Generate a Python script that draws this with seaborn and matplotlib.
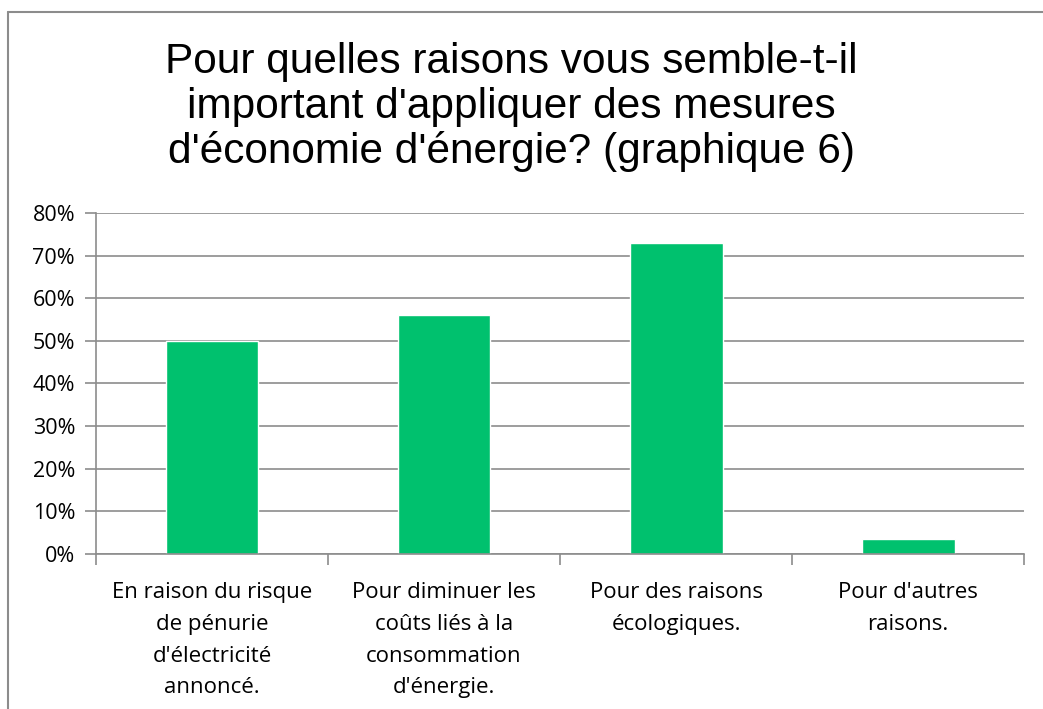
import matplotlib
matplotlib.use("Agg")
import matplotlib.pyplot as plt
from matplotlib.lines import Line2D
from matplotlib.ticker import PercentFormatter
import pandas as pd
import seaborn as sns

categories = [
    "En raison du risque\nde pénurie\nd'électricité\nannoncé.",
    "Pour diminuer les\ncoûts liés à la\nconsommation\nd'énergie.",
    "Pour des raisons\nécologiques.",
    "Pour d'autres\nraisons.",
]
values = [50.0, 56.0, 73.0, 3.5]
yticks = [0, 10, 20, 30, 40, 50, 60, 70, 80]
title = "Pour quelles raisons vous semble-t-il\nimportant d'appliquer des mesures\nd'économie d'énergie? (graphique 6)"

df = pd.DataFrame({"raison": categories, "pct": values})

sns.set_style("white")
plt.rcParams["font.family"] = ["Open Sans", "DejaVu Sans"]

fig = plt.figure(figsize=(10.43, 7.09), dpi=100)
ax = fig.add_axes([0.092, 0.2186, 0.890, 0.481])

sns.barplot(data=df, x="raison", y="pct", color="#00C16E", saturation=1,
            width=0.4, ax=ax)

grey = "#8C8C8C"
ax.set_ylim(0, 80)
ax.set_xlim(-0.5, 3.5)
ax.set_yticks(yticks)
ax.yaxis.set_major_formatter(PercentFormatter(decimals=0))
ax.yaxis.grid(True, color=grey, linewidth=1.2)
ax.set_axisbelow(True)
ax.set_xlabel("")
ax.set_ylabel("")

# ticks on category boundaries
ax.set_xticks([-0.5, 0.5, 1.5, 2.5, 3.5], minor=True)
ax.set_xticks([0, 1, 2, 3])
ax.set_xticklabels(categories, fontsize=16, linespacing=1.68)
ax.tick_params(axis="x", which="major", length=0, pad=20, labelcolor="black")
ax.tick_params(axis="x", which="minor", length=8, width=1.2, color=grey,
               direction="out", bottom=True)
ax.tick_params(axis="y", length=8, width=1.2, color=grey, direction="out",
               left=True, labelsize=15.5, pad=7, labelcolor="black")

for side in ["top", "right"]:
    ax.spines[side].set_visible(False)
for side in ["left", "bottom"]:
    ax.spines[side].set_color(grey)
    ax.spines[side].set_linewidth(1.2)

fig.text(0.4905, 1 - 42 / 709, title, ha="center", va="top", fontsize=30.5,
         family=["Liberation Sans", "DejaVu Sans"], linespacing=1.15,
         color="black")

# chart area border (left and top only visible)
fig.add_artist(Line2D([8 / 1043, 8 / 1043], [0, 1 - 12 / 709],
                      transform=fig.transFigure, color=grey, linewidth=1.5))
fig.add_artist(Line2D([8 / 1043, 1], [1 - 12 / 709, 1 - 12 / 709],
                      transform=fig.transFigure, color=grey, linewidth=1.5))

fig.savefig("out.png", dpi=100, facecolor="white")
